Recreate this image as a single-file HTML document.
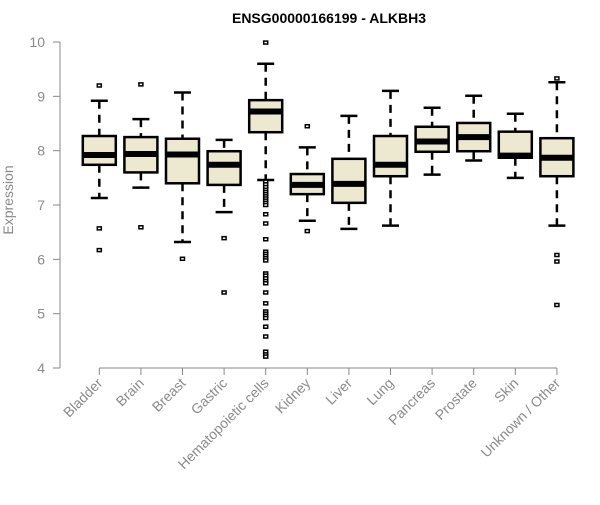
<!DOCTYPE html>
<html><head><meta charset="utf-8"><style>
body{margin:0;background:#fff;}
svg text{font-family:"Liberation Sans",Arial,sans-serif;}
</style></head><body>
<svg id="chart" width="600" height="500" xmlns="http://www.w3.org/2000/svg">
<text x="329" y="23" text-anchor="middle" font-size="14" font-weight="bold">ENSG00000166199 - ALKBH3</text>
<text transform="translate(13,200) rotate(-90)" text-anchor="middle" font-size="14" fill="#8a8a8a">Expression</text>
<g id="axes"></g><g id="plot"></g>
</svg>
<script>
const categories=["Bladder","Brain","Breast","Gastric","Hematopoietic cells","Kidney","Liver","Lung","Pancreas","Prostate","Skin","Unknown / Other"];
const lowerWhisker=[7.13,7.32,6.32,6.87,7.46,6.71,6.56,6.62,7.56,7.82,7.50,6.62];
const q1=[7.74,7.60,7.40,7.37,8.34,7.20,7.04,7.53,7.98,7.99,7.87,7.53];
const medians=[7.92,7.94,7.93,7.74,8.72,7.37,7.39,7.74,8.17,8.25,7.91,7.87];
const q3=[8.27,8.25,8.22,7.99,8.93,7.57,7.85,8.27,8.44,8.51,8.35,8.23];
const upperWhisker=[8.92,8.58,9.07,8.20,9.60,8.06,8.64,9.10,8.79,9.01,8.68,9.26];
const outliers=[[9.20,6.57,6.17],[9.22,6.59],[6.01],[6.39,5.39],
[9.99,7.43,7.38,7.33,7.28,7.24,7.20,7.16,7.12,7.08,7.04,7.0,6.83,6.66,6.37,6.14,6.10,6.06,6.02,5.98,5.74,5.70,5.65,5.60,5.56,5.39,5.19,5.04,5.0,4.96,4.92,4.76,4.58,4.30,4.25,4.21],
[8.45,6.52],[],[],[],[],[],[9.33,6.08,5.96,5.16]];
const yTicks=[4,5,6,7,8,9,10];
const NS="http://www.w3.org/2000/svg";
const yS=v=>368-(v-4)*54.33;
const xS=i=>99.3+i*41.6;
const axes=document.getElementById('axes'),plot=document.getElementById('plot');
function mk(tag,attrs,parent){const e=document.createElementNS(NS,tag);for(const k in attrs)e.setAttribute(k,attrs[k]);parent.appendChild(e);return e;}
// y axis
let yl=mk('line',{x1:60,x2:60,y1:yS(4),y2:yS(10),stroke:'#888','stroke-width':1},axes);


yTicks.forEach(t=>{
 let tk=mk('line',{x1:53,x2:60,y1:yS(t),y2:yS(t),stroke:'#888'},axes);
 
 
 let tx=mk('text',{x:45,y:yS(t)+5,'text-anchor':'end','font-size':14,fill:'#8a8a8a'},axes);
 tx.textContent=t;
 
 
});
let xl=mk('line',{x1:xS(0),x2:xS(categories.length-1),y1:368,y2:368,stroke:'#888'},axes);


categories.forEach((c,i)=>{
 const x=xS(i);
 let tk=mk('line',{x1:x,x2:x,y1:368,y2:375,stroke:'#888'},axes);
 
 
 let tx=mk('text',{x:x+4,y:384,'text-anchor':'end','font-size':14,fill:'#8a8a8a',transform:`rotate(-45 ${x+4} 384)`},axes);
 tx.textContent=c;
 
 
 const g=mk('g',{},plot);
 
 
 mk('line',{x1:x,x2:x,y1:yS(upperWhisker[i]),y2:yS(q3[i]),stroke:'#000','stroke-width':2.5,'stroke-dasharray':'8,6'},g);
 mk('line',{x1:x,x2:x,y1:yS(q1[i]),y2:yS(lowerWhisker[i]),stroke:'#000','stroke-width':2.5,'stroke-dasharray':'8,6'},g);
 mk('line',{x1:x-8.5,x2:x+8.5,y1:yS(upperWhisker[i]),y2:yS(upperWhisker[i]),stroke:'#000','stroke-width':2.5},g);
 mk('line',{x1:x-8.5,x2:x+8.5,y1:yS(lowerWhisker[i]),y2:yS(lowerWhisker[i]),stroke:'#000','stroke-width':2.5},g);
 mk('rect',{x:x-16.5,y:yS(q3[i]),width:33,height:yS(q1[i])-yS(q3[i]),fill:'#ede8d0',stroke:'#000','stroke-width':2.5},g);
 mk('line',{x1:x-16.5,x2:x+16.5,y1:yS(medians[i]),y2:yS(medians[i]),stroke:'#000','stroke-width':6},g);
 outliers[i].forEach(v=>{
  let o=mk('rect',{x:x-2,y:yS(v)-1.5,width:4,height:3,fill:'#fff',stroke:'#000','stroke-width':1.5},g);
  
  
 });
});
</script>
</body></html>
